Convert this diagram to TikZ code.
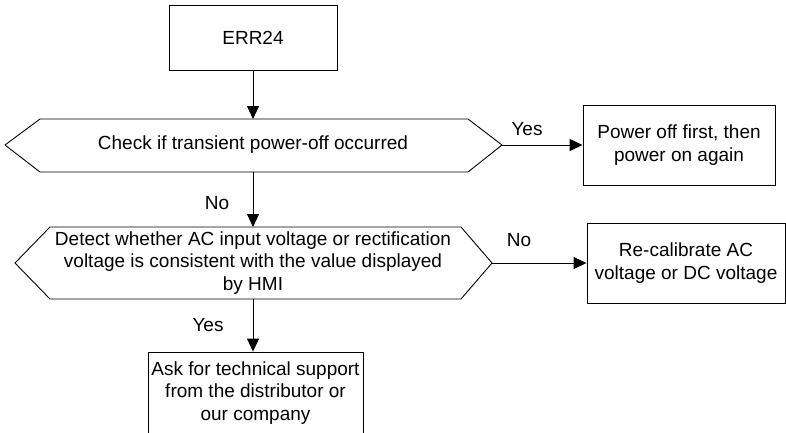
\documentclass[tikz,border=0pt]{standalone}
\usepackage{fontspec}
\setmainfont{Liberation Sans}
\usetikzlibrary{arrows.meta}
\begin{document}
\begin{tikzpicture}[x=1pt,y=-1pt,line width=0.9pt,
  txt/.style={font=\fontsize{19}{22.5}\selectfont, align=center, inner sep=0pt},
  box/.style={txt, draw},
  arr/.style={-{Triangle[length=13pt,width=12pt]}}]
\useasboundingbox (0,0) rectangle (786,432);
% boxes
\node[box, minimum width=168pt, minimum height=65pt] (err) at (253,37.5) {ERR24};
\node[box, minimum width=192pt, minimum height=80pt] (pwr) at (679,145) {Power off first, then\\power on again};
\node[box, minimum width=198pt, minimum height=80pt] (cal) at (686,263) {Re-calibrate AC\\voltage or DC voltage};
\node[box, minimum width=215pt, minimum height=82pt] (ask) at (255.5,393) {Ask for technical support\\from the distributor or\\our company};
% hexagon 1
\coordinate (h1w) at (5,145);
\coordinate (h1nw) at (40,119);
\coordinate (h1ne) at (468,119);
\coordinate (h1e) at (502,145);
\coordinate (h1se) at (468,172);
\coordinate (h1sw) at (40,172);
\coordinate (h1n) at (253,119);
\coordinate (h1s) at (253,172);
\draw (h1w) -- (h1nw) -- (h1ne) -- (h1e) -- (h1se) -- (h1sw) -- cycle;
\node[txt] (q1) at (253,145) {Check if transient power-off occurred};
% hexagon 2
\coordinate (h2w) at (15,263);
\coordinate (h2nw) at (50,227);
\coordinate (h2ne) at (461,227);
\coordinate (h2e) at (492,263);
\coordinate (h2se) at (461,299);
\coordinate (h2sw) at (50,299);
\coordinate (h2n) at (253,227);
\coordinate (h2s) at (253,299);
\draw (h2w) -- (h2nw) -- (h2ne) -- (h2e) -- (h2se) -- (h2sw) -- cycle;
\node[txt] (q2) at (253,263) {Detect whether AC input voltage or rectification\\voltage is consistent with the value displayed\\by HMI};
% connectors
\draw[arr] (err.south) -- (h1n);
\draw[arr] (h1e) -- (pwr.west);
\draw[arr] (h1s) -- (h2n);
\draw[arr] (h2e) -- (cal.west);
\draw[arr] (h2s) -- (h2s |- ask.north);
% labels
\node[txt] (l1) at (527,129) {Yes};
\node[txt] (l2) at (217,203) {No};
\node[txt] (l3) at (519,240) {No};
\node[txt] (l4) at (208,325) {Yes};
\end{tikzpicture}
\end{document}
